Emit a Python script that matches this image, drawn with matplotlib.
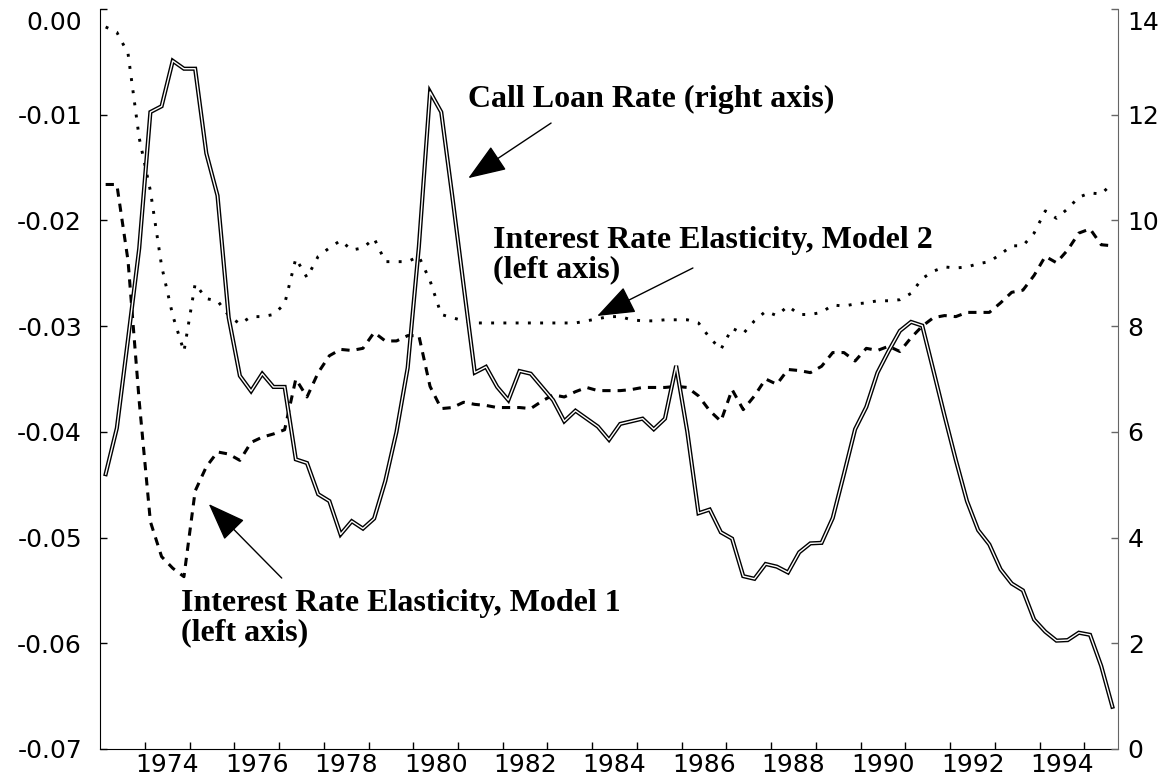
import numpy as np
import matplotlib.pyplot as plt
from matplotlib.transforms import ScaledTranslation

plt.rcParams['font.family'] = ['DejaVu Sans']

# quarterly observations, 1973Q1 .. 1995Q3 (plotted at mid-quarter)
quarters = np.arange(1973.125, 1995.7, 0.25)

# call loan rate, percent (right axis)
call_rate = [5.2, 6.07, 7.75, 9.47, 12.05, 12.16, 13.02, 12.87, 12.87, 11.27,
             10.47, 8.16, 7.06, 6.77, 7.1, 6.85, 6.85, 5.48, 5.41, 4.82,
             4.69, 4.06, 4.31, 4.17, 4.36, 5.07, 6.0, 7.21, 9.5, 12.43,
             12.05, 10.44, 8.77, 7.12, 7.23, 6.85, 6.6, 7.15, 7.1, 6.85,
             6.6, 6.2, 6.4, 6.25, 6.1, 5.85, 6.15, 6.2, 6.25, 6.05,
             6.25, 7.25, 6.0, 4.46, 4.53, 4.1, 3.98, 3.27, 3.22, 3.5,
             3.45, 3.34, 3.72, 3.89, 3.9, 4.37, 5.2, 6.05, 6.47, 7.12,
             7.53, 7.91, 8.08, 8.01, 7.16, 6.3, 5.47, 4.69, 4.14, 3.87,
             3.4, 3.13, 3.0, 2.45, 2.22, 2.05, 2.06, 2.2, 2.16, 1.57,
             0.8]

# interest rate elasticity, model 1 (left axis)
elas_model1 = [-0.0166, -0.0166, -0.0238, -0.0371, -0.0485, -0.0518, -0.0529, -0.0537, -0.0456, -0.0433,
               -0.0419, -0.0421, -0.0427, -0.041, -0.0405, -0.0402, -0.0398, -0.035, -0.0367, -0.0344,
               -0.0328, -0.0322, -0.0323, -0.0321, -0.0306, -0.0314, -0.0314, -0.0309, -0.0309, -0.0357,
               -0.0378, -0.0377, -0.0372, -0.0374, -0.0375, -0.0377, -0.0377, -0.0377, -0.0378, -0.0371,
               -0.0365, -0.0367, -0.0362, -0.0358, -0.0361, -0.0361, -0.0361, -0.036, -0.0358, -0.0358,
               -0.0358, -0.0357, -0.0358, -0.0366, -0.038, -0.039, -0.036, -0.0379, -0.0366, -0.035,
               -0.0355, -0.0341, -0.0342, -0.0344, -0.0338, -0.0325, -0.0325, -0.0333, -0.0321, -0.0323,
               -0.0319, -0.0324, -0.0311, -0.030, -0.0292, -0.029, -0.0291, -0.0287, -0.0287, -0.0287,
               -0.0278, -0.0268, -0.0266, -0.0252, -0.0234, -0.024, -0.0228, -0.0212, -0.0208, -0.0223,
               -0.0224]

# interest rate elasticity, model 2 (left axis)
elas_model2 = [-0.0017, -0.0022, -0.0042, -0.0122, -0.0172, -0.0243, -0.029, -0.0324, -0.026, -0.0274,
               -0.0276, -0.029, -0.0298, -0.0291, -0.0291, -0.0289, -0.0279, -0.0236, -0.0254, -0.0234,
               -0.0226, -0.0219, -0.0228, -0.0226, -0.0217, -0.0239, -0.0239, -0.0239, -0.0234, -0.0257,
               -0.0289, -0.0292, -0.0295, -0.0297, -0.0297, -0.0297, -0.0297, -0.0297, -0.0297, -0.0297,
               -0.0297, -0.0297, -0.0297, -0.0295, -0.0293, -0.0291, -0.0291, -0.0294, -0.0295, -0.0295,
               -0.0294, -0.0294, -0.0294, -0.0297, -0.0311, -0.0322, -0.0302, -0.0307, -0.0295, -0.0286,
               -0.029, -0.0281, -0.0289, -0.0289, -0.0287, -0.028, -0.0281, -0.0279, -0.0278, -0.0276,
               -0.0276, -0.0275, -0.0269, -0.0255, -0.0248, -0.0244, -0.0245, -0.0244, -0.0241, -0.0239,
               -0.0232, -0.0224, -0.0224, -0.0212, -0.0191, -0.0198, -0.0189, -0.0178, -0.0174, -0.0175,
               -0.0165]

left_ticks = [-0.07, -0.06, -0.05, -0.04, -0.03, -0.02, -0.01, 0.0]
right_ticks = [0, 2, 4, 6, 8, 10, 12, 14]
year_ticks = list(range(1974, 1996))
year_labels = list(range(1974, 1996, 2))

fig = plt.figure(figsize=(11.73, 7.82), dpi=100)
ax = fig.add_axes([0.0853, 0.0422, 0.8678, 0.9463])
ax2 = ax.twinx()

# elasticities on left axis
ax.plot(quarters, elas_model1, color='black', lw=2.2, linestyle=(0, (2.7, 2.3)))
ax.plot(quarters, elas_model2, color='black', lw=2.1, linestyle=(0, (1, 3.2)))

# call loan rate as a double line on the right axis
ax2.plot(quarters, call_rate, color='black', lw=3.0, solid_joinstyle='miter')
ax2.plot(quarters, call_rate, color='white', lw=1.0)

ax.set_xlim(1973.0, 1995.75)
ax.set_ylim(-0.07, 0.0)
ax2.set_ylim(0, 14)

ax.set_yticks(left_ticks)
ax.set_yticklabels(['%.2f' % v for v in left_ticks])
ax2.set_yticks(right_ticks)
ax2.set_yticklabels([str(v) for v in right_ticks])

# year ticks at year start, labels centred in the year
ax.set_xticks(year_ticks)
ax.set_xticklabels([])
ax.set_xticks([y + 0.5 for y in year_labels], minor=True)
ax.set_xticklabels([str(y) for y in year_labels], minor=True)

for a in (ax, ax2):
    a.spines['top'].set_visible(False)
ax.spines['right'].set_visible(False)
ax2.spines['left'].set_visible(False)
ax2.spines['bottom'].set_visible(False)
ax2.spines['right'].set_color('#666666')

ax.tick_params(axis='y', direction='in', length=5, width=1, labelsize=18, pad=13)
ax.tick_params(axis='x', which='major', direction='in', length=5, width=1)
ax.tick_params(axis='x', which='minor', length=0, labelsize=18, pad=3)
ax2.tick_params(axis='y', direction='in', length=5, width=1, color='#666666',
                labelsize=18, pad=7)

# top labels sit a little lower in the original
shift = ScaledTranslation(0, -12 / 100, fig.dpi_scale_trans)
for t in (ax.yaxis.get_major_ticks()[-1], ax2.yaxis.get_major_ticks()[-1]):
    for lab in (t.label1, t.label2):
        lab.set_transform(lab.get_transform() + shift)

# annotations
tfont = dict(family='Liberation Serif', weight='bold', size=23, color='black')
arrow = dict(arrowstyle='-|>,head_length=1.2,head_width=0.45', color='black',
             lw=1.0, mutation_scale=20, shrinkA=0, shrinkB=0)

ax.text(1981.23, -0.00927, 'Call Loan Rate (right axis)', va='baseline', **tfont)
ax.annotate('', xy=(1981.23, -0.0160), xytext=(1983.08, -0.01079), arrowprops=arrow)

ax.text(1981.79, -0.02261, 'Interest Rate Elasticity, Model 2', va='baseline', **tfont)
ax.text(1981.79, -0.02535, '(left axis)', va='baseline', **tfont)
ax.annotate('', xy=(1984.11, -0.02904), xytext=(1986.25, -0.0245), arrowprops=arrow)

ax.text(1974.80, -0.05695, 'Interest Rate Elasticity, Model 1', va='baseline', **tfont)
ax.text(1974.80, -0.0597, '(left axis)', va='baseline', **tfont)
ax.annotate('', xy=(1975.43, -0.04683), xytext=(1977.06, -0.05383), arrowprops=arrow)

fig.savefig('out.png', dpi=100)
